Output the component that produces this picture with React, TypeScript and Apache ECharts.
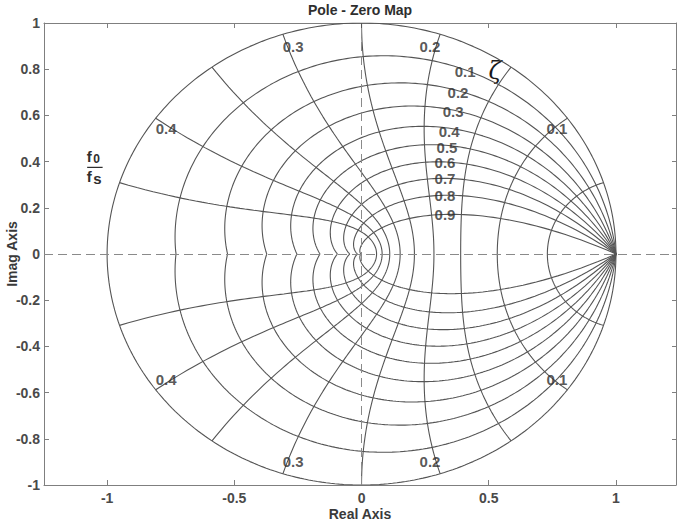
import React, { useEffect, useRef } from "react";
import * as echarts from "echarts";

// Damping ratios drawn (0 = unit circle)
const zetaValues = [0, 0.1, 0.2, 0.3, 0.4, 0.5, 0.6, 0.7, 0.8, 0.9];
// Natural frequencies as f0/fs
const freqValues = [0.05, 0.1, 0.15, 0.2, 0.25, 0.3, 0.35, 0.4, 0.45];
const xTicks = [-1, -0.5, 0, 0.5, 1];
const yTicks = [-1, -0.8, -0.6, -0.4, -0.2, 0, 0.2, 0.4, 0.6, 0.8, 1];
const zetaLabels = ["0.1", "0.2", "0.3", "0.4", "0.5", "0.6", "0.7", "0.8", "0.9"];
const zetaLabelAnchors = [
  [0.407, 0.788],
  [0.379, 0.701],
  [0.36, 0.615],
  [0.344, 0.532],
  [0.336, 0.463],
  [0.328, 0.396],
  [0.328, 0.329],
  [0.328, 0.253],
  [0.328, 0.173],
];
const freqLabels = ["0.1", "0.2", "0.3", "0.4"];
const freqLabelAnchors = [
  [0.768, 0.545],
  [0.269, 0.9],
  [-0.269, 0.9],
  [-0.768, 0.545],
];
const X_MIN = -1.248;
const X_MAX = 1.236;

const FONT = '"Liberation Sans", Arial, sans-serif';
const CURVE = "#555555";
const FRAME = "#7f7f7f";
const TEXT = "#4a4a4a";

function zetaCurve(zeta: number): number[][] {
  const pts: number[][] = [];
  const n = 360;
  const k = zeta / Math.sqrt(1 - zeta * zeta);
  for (let i = 0; i <= n; i++) {
    const th = -Math.PI + (2 * Math.PI * i) / n;
    const r = Math.exp(-k * Math.abs(th));
    pts.push([r * Math.cos(th), r * Math.sin(th)]);
  }
  return pts;
}

function freqCurve(f: number): number[][] {
  const pts: number[][] = [];
  const wT = 2 * Math.PI * f;
  const n = 240;
  for (let i = 0; i <= n; i++) {
    const u = -Math.PI / 2 + (Math.PI * i) / n;
    const r = Math.exp(-wT * Math.cos(u));
    const ang = wT * Math.sin(u);
    pts.push([r * Math.cos(ang), r * Math.sin(ang)]);
  }
  return pts;
}

export default function App() {
  const ref = useRef<HTMLDivElement>(null);
  useEffect(() => {
    const el = ref.current!;
    const chart = echarts.init(el, null, { renderer: "svg" });
    const lineBase = {
      type: "line",
      showSymbol: false,
      symbol: "none",
      silent: true,
      smooth: false,
      lineStyle: { color: CURVE, width: 1.1 },
      z: 2,
    };
    const series: any[] = [];
    zetaValues.forEach((z) => {
      series.push({ ...lineBase, data: zetaCurve(z) });
    });
    freqValues.forEach((f) => {
      series.push({ ...lineBase, data: freqCurve(f) });
    });
    series[0].markLine = {
      symbol: "none",
      silent: true,
      label: { show: false },
      lineStyle: { type: [9, 5], color: "#8a8a8a", width: 1 },
      data: [{ xAxis: 0 }, { yAxis: 0 }],
    };
    const labelStyle = {
      show: true,
      position: "inside",
      formatter: "{b}",
      color: "#2e2e2e",
      fontWeight: "bold",
      fontSize: 15,
      fontFamily: FONT,
    };
    series.push({
      type: "scatter",
      silent: true,
      symbolSize: 1,
      itemStyle: { color: "transparent" },
      label: labelStyle,
      z: 5,
      data: zetaLabelAnchors.map((p, i) => ({ value: p, name: zetaLabels[i] })),
    });
    series.push({
      type: "scatter",
      silent: true,
      symbolSize: 1,
      itemStyle: { color: "transparent" },
      label: labelStyle,
      z: 5,
      data: [
        ...freqLabelAnchors.map((p, i) => ({ value: p, name: freqLabels[i] })),
        ...freqLabelAnchors.map((p, i) => ({ value: [p[0], -p[1]], name: freqLabels[i] })),
      ],
    });

    const tickLabel = {
      color: TEXT,
      fontWeight: "bold",
      fontSize: 14,
      fontFamily: FONT,
    };
    const option: any = {
      animation: false,
      grid: { left: 44, right: 1, top: 23, bottom: 37, containLabel: false, outerBoundsMode: "none" },
      xAxis: [
        {
          type: "value",
          position: "bottom",
          min: X_MIN,
          max: X_MAX,
          axisLine: { show: true, onZero: false, lineStyle: { color: FRAME, width: 1 } },
          axisTick: { show: true, inside: true, length: 5, customValues: xTicks, lineStyle: { color: FRAME } },
          axisLabel: { ...tickLabel, customValues: xTicks, margin: 6, formatter: (v: number) => String(v) },
          splitLine: { show: false },
          name: "Real Axis",
          nameLocation: "middle",
          nameGap: 22,
          nameMoveOverlap: false,
          nameTextStyle: { ...tickLabel, color: "#3a3a3a" },
        },
        {
          type: "value",
          position: "top",
          min: X_MIN,
          max: X_MAX,
          axisLine: { show: true, onZero: false, lineStyle: { color: FRAME, width: 1 } },
          axisTick: { show: true, inside: true, length: 5, customValues: xTicks, lineStyle: { color: FRAME } },
          axisLabel: { show: false },
          splitLine: { show: false },
        },
      ],
      yAxis: [
        {
          type: "value",
          position: "left",
          min: -1,
          max: 1,
          axisLine: { show: true, onZero: false, lineStyle: { color: FRAME, width: 1 } },
          axisTick: { show: true, inside: true, length: 5, customValues: yTicks, lineStyle: { color: FRAME } },
          axisLabel: { ...tickLabel, customValues: yTicks, margin: 4, formatter: (v: number) => String(v) },
          splitLine: { show: false },
          name: "Imag Axis",
          nameLocation: "middle",
          nameGap: 25,
          nameMoveOverlap: false,
          nameTextStyle: { ...tickLabel, color: "#3a3a3a" },
        },
        {
          type: "value",
          position: "right",
          min: -1,
          max: 1,
          axisLine: { show: true, onZero: false, lineStyle: { color: FRAME, width: 1 } },
          axisTick: { show: true, inside: true, length: 4, customValues: yTicks, lineStyle: { color: FRAME } },
          axisLabel: { show: false },
          splitLine: { show: false },
        },
      ],
      series,
    };
    chart.setOption(option);

    const toPx = (p: number[]) => chart.convertToPixel({ seriesIndex: 0 }, p) as number[];
    const zetaPos = toPx([0.525, 0.792]);
    const fracPos = toPx([-1.049, 0.375]);
    const ax = fracPos[0];
    const ay = fracPos[1];
    chart.setOption({
      graphic: [
        {
          type: "text",
          x: 360,
          y: 10,
          silent: true,
          style: {
            text: "Pole - Zero Map",
            font: `bold 14px ${FONT}`,
            fill: "#2e2e2e",
            align: "center",
            verticalAlign: "middle",
          },
        },
        {
          type: "text",
          x: zetaPos[0],
          y: zetaPos[1],
          silent: true,
          style: {
            text: "ζ",
            font: `italic 24px "DejaVu Serif", serif`,
            fill: "#1a1a1a",
            align: "center",
            verticalAlign: "middle",
          },
        },
        {
          type: "text",
          x: ax - 8,
          y: ay - 10.5,
          silent: true,
          style: { text: "f", font: `bold 15px ${FONT}`, fill: "#2e2e2e", align: "left", verticalAlign: "middle" },
        },
        {
          type: "text",
          x: ax - 1.5,
          y: ay - 8.5,
          silent: true,
          style: { text: "0", font: `bold 12px ${FONT}`, fill: "#2e2e2e", align: "left", verticalAlign: "middle" },
        },
        {
          type: "line",
          silent: true,
          shape: { x1: ax - 7.5, y1: ay, x2: ax + 8, y2: ay },
          style: { stroke: "#2e2e2e", lineWidth: 1.2 },
        },
        {
          type: "text",
          x: ax - 8,
          y: ay + 9,
          silent: true,
          style: { text: "f", font: `bold 15px ${FONT}`, fill: "#2e2e2e", align: "left", verticalAlign: "middle" },
        },
        {
          type: "text",
          x: ax - 1.5,
          y: ay + 11.5,
          silent: true,
          style: { text: "s", font: `bold 15px ${FONT}`, fill: "#2e2e2e", align: "left", verticalAlign: "middle" },
        },
      ],
    });

    return () => chart.dispose();
  }, []);
  return (
    <div
      ref={ref}
      style={{ position: "absolute", left: 0, top: 0, width: 677, height: 522 }}
    />
  );
}
